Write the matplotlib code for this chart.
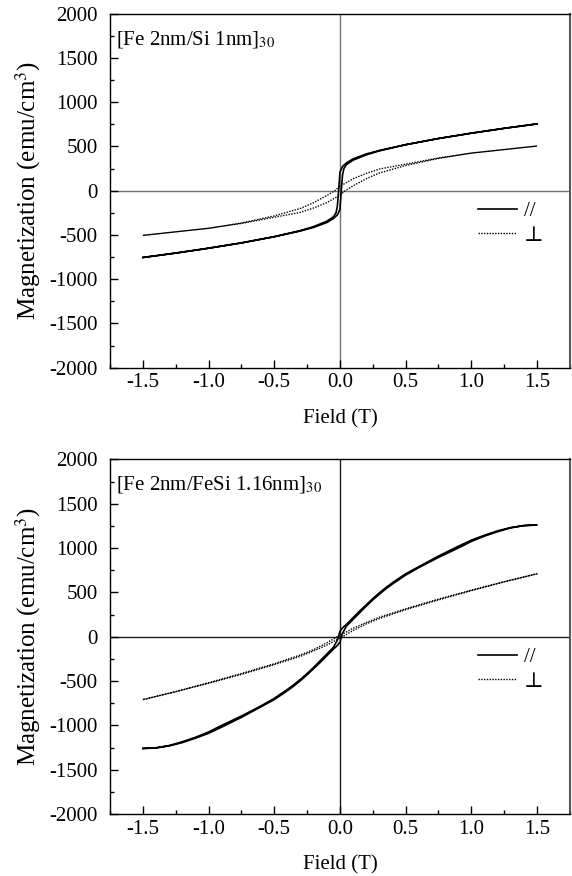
import matplotlib
matplotlib.use("Agg")
import matplotlib.pyplot as plt
import numpy as np
from matplotlib.ticker import MultipleLocator

plt.rcParams['font.family'] = ['Liberation Serif', 'DejaVu Serif']
plt.rcParams['mathtext.fontset'] = 'stix'

# ---------------- data (ascending branches; descending by point symmetry) ----------------
# Top: [Fe 2nm/Si 1nm]30
top_par_H = [-1.5, -1.25, -1.0, -0.75, -0.5, -0.3, -0.2, -0.1, -0.05, -0.02, 0.0, 0.01,
             0.02, 0.03, 0.05, 0.1, 0.2, 0.3, 0.5, 0.75, 1.0, 1.25, 1.5]
top_par_M = [-755, -705, -650, -590, -520, -455, -415, -360, -315, -275, -210, 0,
             180, 250, 295, 345, 405, 450, 520, 590, 650, 705, 755]
top_perp_H = [-1.5, -1.25, -1.0, -0.75, -0.5, -0.3, -0.2, -0.1, 0.0, 0.04, 0.1, 0.2,
              0.3, 0.5, 0.75, 1.0, 1.25, 1.5]
top_perp_M = [-505, -465, -425, -370, -300, -245, -195, -135, -50, 0, 55, 135,
              200, 285, 365, 425, 465, 505]

# Bottom: [Fe 2nm/FeSi 1.16nm]30
bot_par_H = [-1.5, -1.4, -1.3, -1.2, -1.1, -1.0, -0.9, -0.75, -0.6, -0.5, -0.4, -0.35,
             -0.3, -0.25, -0.2, -0.15, -0.1, -0.05, -0.02, 0.0, 0.02, 0.05, 0.1, 0.15,
             0.2, 0.25, 0.3, 0.35, 0.4, 0.5, 0.6, 0.75, 0.9, 1.0, 1.1, 1.2, 1.3, 1.4, 1.5]
bot_par_M = [-1262, -1255, -1232, -1195, -1145, -1090, -1020, -910, -790, -710, -610, -555,
             -495, -430, -360, -290, -215, -140, -100, -60, 40, 120, 195, 270,
             345, 415, 480, 540, 595, 695, 780, 895, 1000, 1075, 1135, 1185, 1228, 1253, 1260]
bot_perp_H = [-1.5, -1.25, -1.0, -0.75, -0.5, -0.3, -0.2, -0.1, 0.0, 0.02, 0.1, 0.2,
              0.3, 0.5, 0.75, 1.0, 1.25, 1.5]
bot_perp_M = [-710, -620, -525, -425, -315, -220, -160, -95, -15, 0, 70, 145,
              205, 305, 415, 520, 620, 710]

panel_titles = [r"[Fe 2nm/Si 1nm]$_{30}$", r"[Fe 2nm/FeSi 1.16nm]$_{30}$"]
legend_labels = ["//", "\u22a5"]
x_ticks = [-1.5, -1.0, -0.5, 0.0, 0.5, 1.0, 1.5]
y_ticks = [-2000, -1500, -1000, -500, 0, 500, 1000, 1500, 2000]

fig = plt.figure(figsize=(5.72, 8.76), dpi=100)
ax_top = fig.add_axes([0.1923, 0.5803, 0.804, 0.4040])
ax_bot = fig.add_axes([0.1923, 0.0708, 0.804, 0.4047])


def loop(H, M):
    H = np.asarray(H, float)
    M = np.asarray(M, float)
    Hl = np.concatenate([H, -H])
    Ml = np.concatenate([M, -M])
    return Hl, Ml


panels = [
    (ax_top, top_par_H, top_par_M, top_perp_H, top_perp_M, '0.45'),
    (ax_bot, bot_par_H, bot_par_M, bot_perp_H, bot_perp_M, '0.1'),
]

for i, (ax, pH, pM, qH, qM, axcol) in enumerate(panels):
    ax.axhline(0, color=axcol, lw=1.0, zorder=1)
    ax.axvline(0, color=axcol, lw=1.0, zorder=1)
    h1, m1 = loop(pH, pM)
    h2, m2 = loop(qH, qM)
    l1, = ax.plot(h1, m1, color='black', lw=1.2, label=legend_labels[0], zorder=3)
    l2, = ax.plot(h2, m2, color='black', lw=1.0, linestyle=(0, (1, 1)),
                  label=legend_labels[1], zorder=2)
    ax.set_xlim(-1.75, 1.75)
    ax.set_ylim(-2000, 2000)
    ax.set_xticks(x_ticks)
    ax.set_xticklabels(["%.1f" % v for v in x_ticks])
    ax.set_yticks(y_ticks)
    ax.set_yticklabels([str(v) for v in y_ticks])
    ax.xaxis.set_minor_locator(MultipleLocator(0.25))
    ax.yaxis.set_minor_locator(MultipleLocator(250))
    ax.tick_params(which='major', direction='in', length=5.5, width=1, labelsize=15,
                   top=False, right=False)
    ax.tick_params(axis='y', which='major', pad=9)
    ax.tick_params(axis='x', which='major', pad=4)
    ax.tick_params(which='minor', direction='in', length=3, width=1,
                   top=False, right=False)
    for s in ax.spines.values():
        s.set_linewidth(1.0)
    ax.spines['right'].set_color('0.35')
    ax.spines['right'].set_linewidth(1.5)
    ax.set_xlabel("Field (T)", fontsize=15, labelpad=12)
    ax.set_ylabel(r"Magnetization (emu/cm$^3$)", fontsize=18, labelpad=4)
    ax.text(0.012, 0.928, panel_titles[i], transform=ax.transAxes, fontsize=15,
            ha='left', va='center')
    ax.legend(handles=[l1, l2], loc='upper right', bbox_to_anchor=(0.942, 0.47),
              frameon=False, fontsize=15, handlelength=1.9, handletextpad=0.3,
              labelspacing=0.25, borderaxespad=0, borderpad=0)

fig.savefig("out.png", dpi=100)
